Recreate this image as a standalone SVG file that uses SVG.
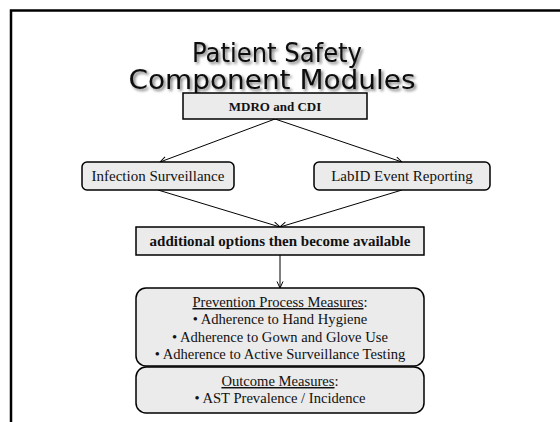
<svg xmlns="http://www.w3.org/2000/svg" width="560" height="422" viewBox="0 0 560 422">
  <style>
    .title { font-family: "DejaVu Sans", "Liberation Sans", sans-serif; font-size: 26px; fill: #0a0a0a; text-anchor: middle; }
    .box { fill: #ebebeb; stroke: #000; stroke-width: 1.5; }
    .lbl { font-family: "Liberation Serif", "Times New Roman", serif; font-size: 15px; fill: #111; text-anchor: middle; }
    .bold { font-weight: bold; }
    .item { font-family: "Liberation Serif", "Times New Roman", serif; font-size: 14.6px; fill: #111; text-anchor: middle; }
    .conn { stroke: #000; stroke-width: 1; fill: none; marker-end: url(#arrow); }
    .frame { stroke: #000; stroke-width: 2.5; fill: none; }
  </style>
  <defs>
    <marker id="arrow" viewBox="0 0 8 8" refX="7.5" refY="4" markerWidth="8" markerHeight="8" markerUnits="userSpaceOnUse" orient="auto">
      <path d="M1,1 L7.5,4 L1,7" fill="none" stroke="#000" stroke-width="1"/>
    </marker>
    <!-- soft grey drop shadow for the heading -->
    <filter id="shadow" x="-10%" y="-40%" width="125%" height="190%">
      <feGaussianBlur in="SourceAlpha" stdDeviation="1.6" result="b"/>
      <feOffset in="b" dx="2" dy="2" result="o"/>
      <feComponentTransfer in="o" result="s">
        <feFuncA type="linear" slope="0.55"/>
      </feComponentTransfer>
      <feMerge>
        <feMergeNode in="s"/>
        <feMergeNode in="SourceGraphic"/>
      </feMerge>
    </filter>
  </defs>

  <rect width="560" height="422" fill="#fff"/>

  <!-- slide frame: top and left edges -->
  <path class="frame" d="M560,10.5 H11 V422"/>

  <g id="title" filter="url(#shadow)">
    <text class="title" x="277" y="62" textLength="170" lengthAdjust="spacingAndGlyphs">Patient Safety</text>
    <text class="title" x="272" y="89" textLength="287" lengthAdjust="spacingAndGlyphs">Component Modules</text>
  </g>

  <!-- connectors -->
  <g id="connectors">
    <line class="conn" x1="275" y1="119" x2="160" y2="162"/>
    <line class="conn" x1="275" y1="119" x2="402" y2="162"/>
    <line class="conn" x1="158" y1="190" x2="280" y2="227"/>
    <line class="conn" x1="402" y1="190" x2="280" y2="227"/>
    <line class="conn" x1="280" y1="255" x2="280" y2="288"/>
  </g>

  <g id="mdro">
    <rect class="box" x="183" y="93" width="184" height="26"/>
    <text class="lbl bold" x="275" y="110.5" style="font-size:13px">MDRO and CDI</text>
  </g>

  <g id="infection">
    <rect class="box" x="82" y="162" width="152" height="28" rx="5"/>
    <text class="lbl" x="158" y="181">Infection Surveillance</text>
  </g>

  <g id="labid">
    <rect class="box" x="314" y="162" width="176" height="28" rx="5"/>
    <text class="lbl" x="402" y="181">LabID Event Reporting</text>
  </g>

  <g id="options">
    <rect class="box" x="136" y="227" width="288" height="28"/>
    <text class="lbl bold" x="280" y="246">additional options then become available</text>
  </g>

  <g id="prevention">
    <rect class="box" x="136" y="288" width="288" height="78" rx="10"/>
    <text class="item" x="280" y="307"><tspan text-decoration="underline">Prevention Process Measures</tspan>:</text>
    <text class="item" x="280" y="324">• Adherence to Hand Hygiene</text>
    <text class="item" x="280" y="342">• Adherence to Gown and Glove Use</text>
    <text class="item" x="280" y="359">• Adherence to Active Surveillance Testing</text>
  </g>

  <g id="outcome">
    <rect class="box" x="136" y="367" width="288" height="46" rx="10"/>
    <text class="item" x="280" y="386"><tspan text-decoration="underline">Outcome Measures</tspan>:</text>
    <text class="item" x="280" y="403">• AST Prevalence / Incidence</text>
  </g>
</svg>
